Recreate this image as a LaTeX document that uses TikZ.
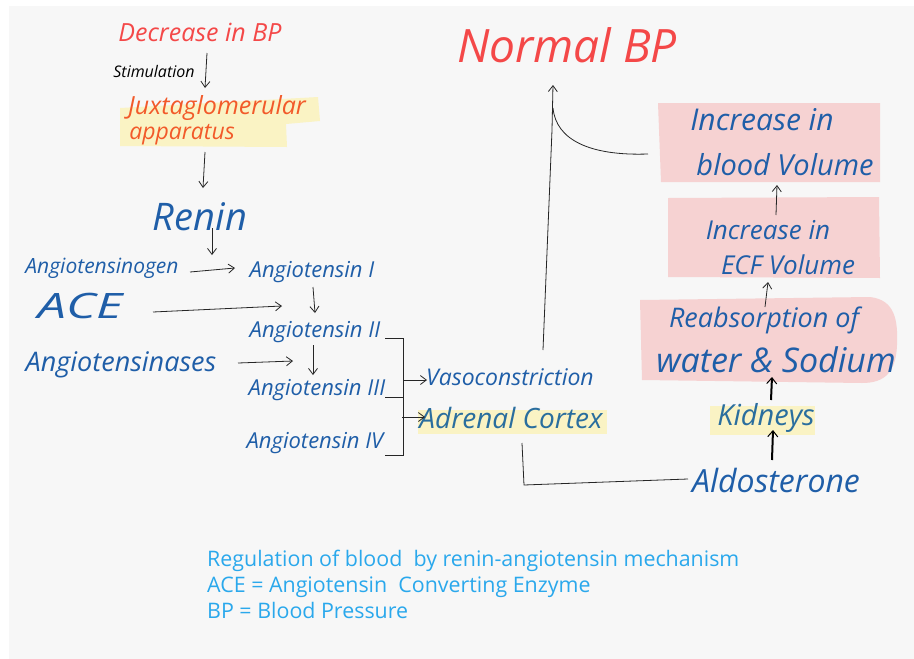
\documentclass[tikz,border=0pt]{standalone}
\usepackage{fontspec}
\setmainfont{Open Sans}
\newfontfamily\hwfont{Open Sans}
\usetikzlibrary{arrows.meta}
\definecolor{bgray}{HTML}{F7F7F7}
\definecolor{hred}{HTML}{F44848}
\definecolor{horange}{HTML}{F25A2A}
\definecolor{hblue}{HTML}{1F5EA8}
\definecolor{hteal}{HTML}{2A6E9E}
\definecolor{capblue}{HTML}{2AA8EC}
\definecolor{hpink}{HTML}{F6D2D2}
\definecolor{hyellow}{HTML}{FAF3C4}
\tikzset{
  hw/.style={font=\hwfont\itshape\fontsize{#1}{#1}\selectfont, inner sep=0pt, anchor=center},
  arr/.style={draw=black!85, line width=0.8pt, -{Straight Barb[length=6pt,width=9pt]}},
  tarr/.style={draw=black, line width=2pt, -{Straight Barb[length=6pt,width=10pt,line width=1pt]}},
  conn/.style={draw=black!85, line width=0.8pt},
  captext/.style={font=\fontsize{21.4}{21.4}\selectfont, text=capblue, inner sep=0pt, anchor=base west}
}
\begin{document}
\begin{tikzpicture}[x=1pt,y=-1pt]
\useasboundingbox (0,0) rectangle (914,659);
\fill[white] (0,0) rectangle (914,659);
\fill[bgray] (9,6) rectangle (914,659);
% highlights and boxes
\fill[hyellow] (120,108) -- (318,97) -- (320,121) -- (286,124) -- (287,147) -- (120,146) -- cycle;
\fill[hyellow] (418,410) rectangle (607,434);
\fill[hyellow] (710,406) rectangle (815,435);
\fill[hpink] (658,103) -- (880,103) -- (880,182) -- (661,182) -- cycle;
\fill[hpink] (668,198) -- (879,197) -- (880,278) -- (668,277) -- cycle;
\fill[hpink] (640,300) -- (870,297) .. controls (895,300) and (898,320) .. (897,345)
  .. controls (896,372) and (885,383) .. (862,383) -- (642,380) -- cycle;
% texts
\node[hw=25, text=hred] (dec) at (200,32) {Decrease in BP};
\node[hw=16, text=black] (stim) at (154,71) {Stimulation};
\node[hw=25, text=horange] (jga) at (217,108) {Juxtaglomerular};
\node[hw=23, text=horange] (app) at (182,135) {apparatus};
\node[hw=38, text=hblue] (renin) at (200,217) {Renin};
\node[hw=21, text=hblue] (agen) at (102,268) {Angiotensinogen};
\node[hw=22, text=hblue] (ang1) at (312,272) {Angiotensin I};
\node[hw=35, text=hblue, xscale=1.45] (ace) at (80,306) {ACE};
\node[hw=22, text=hblue] (ang2) at (315,332) {Angiotensin II};
\node[hw=27, text=hblue] (ases) at (121,365) {Angiotensinases};
\node[hw=22, text=hblue] (ang3) at (317,390) {Angiotensin III};
\node[hw=22, text=hblue] (ang4) at (315,443) {Angiotensin IV};
\node[hw=23, text=hblue] (vaso) at (510,377) {Vasoconstriction};
\node[hw=28, text=hteal] (adr) at (511,418) {Adrenal Cortex};
\node[hw=46, text=hred] (nbp) at (567,45) {Normal BP};
\node[hw=32, text=hblue] (aldo) at (776,480) {Aldosterone};
\node[hw=29, text=hteal] (kid) at (766,418) {Kidneys};
\node[hw=27, text=hblue] (reab) at (764,320) {Reabsorption of};
\node[hw=34, text=hblue] (water) at (776,360) {water \& Sodium};
\node[hw=26, text=hblue] (inc2) at (768,230) {Increase in};
\node[hw=26, text=hblue] (ecf) at (788,265) {ECF Volume};
\node[hw=30, text=hblue] (inc1) at (762,120) {Increase in};
\node[hw=29, text=hblue] (bv) at (785,165) {blood Volume};
% caption
\node[captext] (c1) at (207,566) {Regulation of blood\ \ by renin-angiotensin mechanism};
\node[captext] (c2) at (207,592) {ACE = Angiotensin\ \ Converting Enzyme};
\node[captext] (c3) at (207,618) {BP = Blood Pressure};
% connectors
\draw[arr] ([shift={(7,21)}]dec.center) -- ([shift={(-12,-20)}]jga.center);
\draw[arr] ([shift={(23,17)}]app.center) -- ([shift={(3,-29)}]renin.center);
\draw[arr] ([shift={(12,11)}]renin.center) -- ([shift={(-100,-17)}]ang1.center);
\draw[arr] ([shift={(88,4)}]agen.center) -- ([shift={(-77,-4)}]ang1.center);
\draw[arr] ([shift={(73,6)}]ace.center) -- ([shift={(-33,-26)}]ang2.center);
\draw[arr] ([shift={(1,15)}]ang1.center) -- ([shift={(0,-19)}]ang2.center);
\draw[arr] ([shift={(-2,13)}]ang2.center) -- ([shift={(-4,-15)}]ang3.center);
\draw[arr] ([shift={(117,-2)}]ases.center) -- ([shift={(-24,-29)}]ang3.center);
\draw[conn] ([shift={(70,6)}]ang2.center) -| ([shift={(88,12)}]ang4.center) -- ([shift={(70,12)}]ang4.center);
\draw[conn] ([shift={(68,7)}]ang3.center) -- ([shift={(86,7)}]ang3.center);
\draw[arr] ([shift={(-107,3)}]vaso.center) -- ([shift={(-83,3)}]vaso.center);
\draw[arr] ([shift={(-109,-1)}]adr.center) -- ([shift={(-86,-1)}]adr.center);
\draw[arr] ([shift={(33,-27)}]vaso.center) -- (552,130) -- ([shift={(-14,40)}]nbp.center);
\draw[conn] ([shift={(-114,34)}]inc1.center) .. controls (590,156) and (556,140) .. (553,108);
\draw[conn] ([shift={(11,25)}]adr.center) -- ([shift={(13,67)}]adr.center) -- ([shift={(-88,-1)}]aldo.center);
\draw[tarr] ([shift={(-4,-20)}]aldo.center) -- ([shift={(7,12)}]kid.center);
\draw[tarr] ([shift={(5,-18)}]kid.center) -- ([shift={(-4,17)}]water.center);
\draw[arr] ([shift={(1,-13)}]reab.center) -- ([shift={(-20,17)}]ecf.center);
\draw[arr] ([shift={(8,-15)}]inc2.center) -- ([shift={(-8,20)}]bv.center);
\end{tikzpicture}
\end{document}
